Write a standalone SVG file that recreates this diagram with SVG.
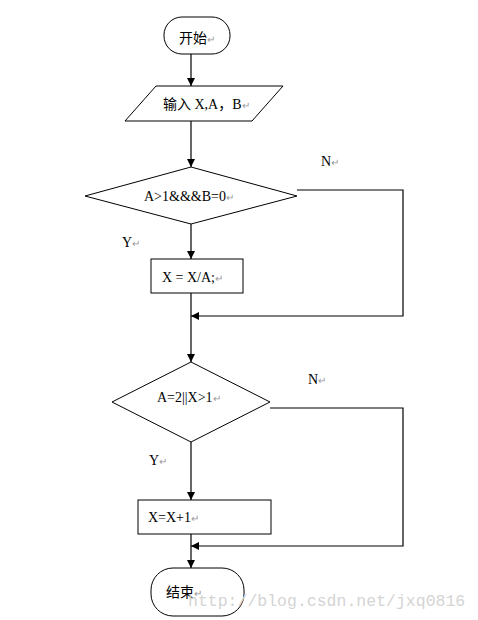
<svg xmlns="http://www.w3.org/2000/svg" width="478" height="620" viewBox="0 0 478 620">
<style>
.s{fill:#fff;stroke:#000;stroke-width:1}
.t{font-family:"Liberation Serif","Noto Sans CJK SC",serif;font-size:14px;fill:#000}
.r{fill:#999;font-size:10px}
.c{fill:none;stroke:#000;stroke-width:1.2}
.w{font-family:"Liberation Mono",monospace;font-size:16.5px;fill:#d4d4d4}
</style>
<defs>
<marker id="a" viewBox="0 0 10 10" refX="10" refY="5" markerWidth="8" markerHeight="8" markerUnits="userSpaceOnUse" orient="auto">
<path d="M0,0L10,5L0,10z" fill="#000"/>
</marker>
</defs>
<rect width="478" height="620" fill="#fff"/>
<g id="connectors">
<line class="c" x1="191" y1="54" x2="191" y2="86" marker-end="url(#a)"/>
<line class="c" x1="191" y1="121" x2="191" y2="167" marker-end="url(#a)"/>
<line class="c" x1="191" y1="224" x2="191" y2="259" marker-end="url(#a)"/>
<line class="c" x1="191" y1="293" x2="191" y2="362" marker-end="url(#a)"/>
<polyline class="c" points="297,190 403,190 403,316 191,316" marker-end="url(#a)"/>
<line class="c" x1="191" y1="442" x2="191" y2="500" marker-end="url(#a)"/>
<line class="c" x1="191" y1="534" x2="191" y2="568" marker-end="url(#a)"/>
<polyline class="c" points="270,408 403,408 403,546 191,546" marker-end="url(#a)"/>
<text class="t" x="321" y="166">N<tspan class="r">↵</tspan></text>
<text class="t" x="122" y="247">Y<tspan class="r">↵</tspan></text>
<text class="t" x="308" y="384">N<tspan class="r">↵</tspan></text>
<text class="t" x="149" y="465">Y<tspan class="r">↵</tspan></text>
</g>
<g id="start">
<rect class="s" x="164" y="17" width="66" height="37" rx="18" ry="18"/>
<text class="t" x="179" y="43">开始<tspan class="r">↵</tspan></text>
</g>
<g id="input">
<polygon class="s" points="156,86 283,86 252,121 125,121"/>
<text class="t" x="163" y="109">输入 X,A，B<tspan class="r">↵</tspan></text>
</g>
<g id="cond1">
<polygon class="s" points="191,167 297,196 191,224 85,196"/>
<text class="t" x="144" y="201">A&gt;1&amp;&amp;&amp;B=0<tspan class="r">↵</tspan></text>
</g>
<g id="assign1">
<rect class="s" x="151" y="259" width="92" height="34"/>
<text class="t" x="162" y="282">X = X/A;<tspan class="r">↵</tspan></text>
</g>
<g id="cond2">
<polygon class="s" points="191,362 270,402 191,442 112,402"/>
<text class="t" x="157" y="402">A=2||X&gt;1<tspan class="r">↵</tspan></text>
</g>
<g id="assign2">
<rect class="s" x="138" y="500" width="133" height="34"/>
<text class="t" x="148" y="522">X=X+1<tspan class="r">↵</tspan></text>
</g>
<g id="end">
<rect class="s" x="151" y="568" width="93" height="48" rx="22" ry="22"/>
<text class="t" x="166" y="597">结束<tspan class="r">↵</tspan></text>
</g>
<text class="w" x="188" y="606">http://blog.csdn.net/jxq0816</text>
</svg>
